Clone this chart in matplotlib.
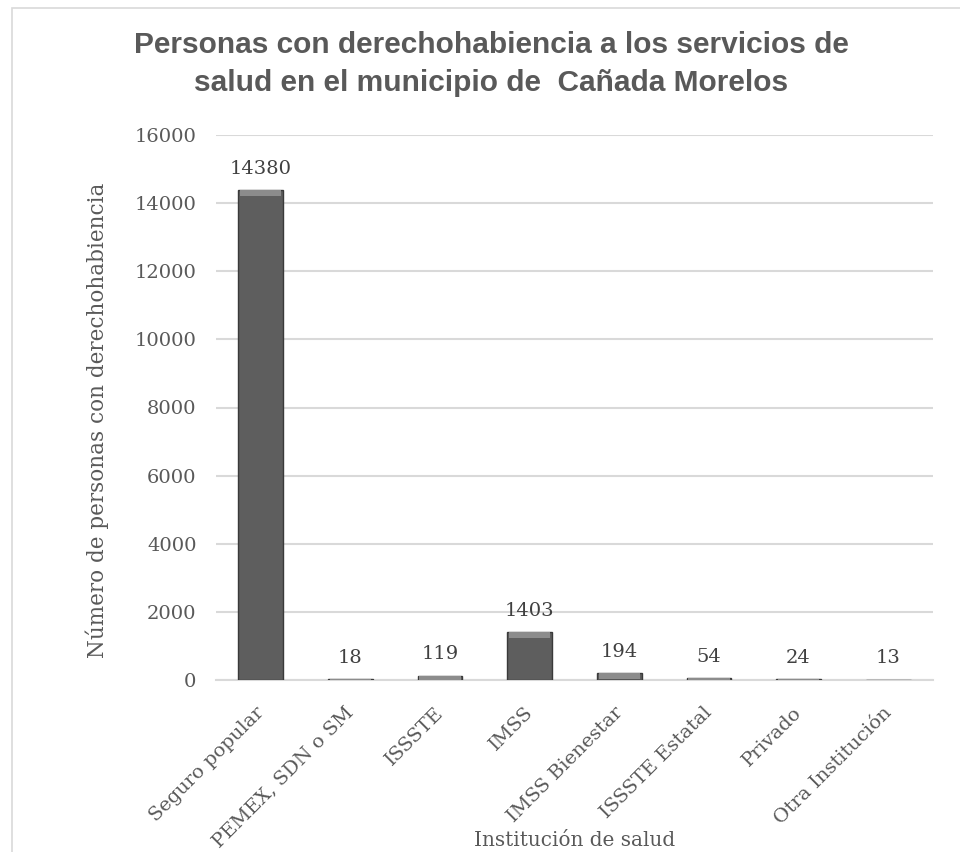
import matplotlib.pyplot as plt
import matplotlib.transforms as mtransforms
from matplotlib.patches import Rectangle

# data
instituciones = ["Seguro popular", "PEMEX, SDN o SM", "ISSSTE", "IMSS",
                 "IMSS Bienestar", "ISSSTE Estatal", "Privado", "Otra Institución"]
personas = [14380, 18, 119, 1403, 194, 54, 24, 13]
y_ticks = [0, 2000, 4000, 6000, 8000, 10000, 12000, 14000, 16000]

txt = "#595959"
grid = "#d9d9d9"
serif = ["DejaVu Serif"]

fig = plt.figure(figsize=(9.6, 8.52), dpi=100)
fig.patches.append(Rectangle((12 / 960, -0.01), 1.0, 1 - 8 / 852 + 0.01,
                             transform=fig.transFigure, fill=False,
                             edgecolor=grid, linewidth=1.2))

ax = fig.add_axes([216 / 960, 1 - 680 / 852, (933 - 216) / 960, (680 - 135) / 852])
x = range(len(instituciones))
bars = ax.bar(x, personas, width=0.5, color="#5e5e5e", edgecolor="#3a3a3a",
              linewidth=1.0, zorder=3)
# light bevel on top of bars
for b in bars:
    h = b.get_height()
    bev = min(h, 170)
    ax.bar(b.get_x() + b.get_width() / 2, bev, bottom=h - bev,
           width=0.46, color="#8c8c8c", linewidth=0, zorder=4)

for xi, v in zip(x, personas):
    ax.annotate(str(v), (xi, v), xytext=(0, 9), textcoords="offset points",
                ha="center", va="bottom", fontsize=14, color="#404040", family=serif)

ax.set_xlim(-0.5, len(instituciones) - 0.5)
ax.set_ylim(0, 16000)
ax.set_yticks(y_ticks)
ax.set_yticklabels([str(t) for t in y_ticks], fontsize=14, color=txt, family=serif)
ax.yaxis.grid(True, color=grid, linewidth=1.5, zorder=0)
ax.set_axisbelow(True)
for s in ["top", "right", "left"]:
    ax.spines[s].set_visible(False)
ax.spines["bottom"].set_color(grid)
ax.spines["bottom"].set_linewidth(1.5)
ax.tick_params(axis="both", length=0, pad=14)
ax.tick_params(axis="x", pad=4)

ax.set_xticks(list(x))
ax.set_xticklabels(instituciones, rotation=45, ha="right", va="top",
                   rotation_mode="anchor", fontsize=14, color=txt, family=serif)
offset = mtransforms.ScaledTranslation(-6 / 100, -18 / 100, fig.dpi_scale_trans)
for lab in ax.get_xticklabels():
    lab.set_transform(lab.get_transform() + offset)

ax.set_ylabel("Número de personas con derechohabiencia", fontsize=15.5,
              color=txt, family=serif)
ax.yaxis.set_label_coords(-0.149, 0.477)
ax.set_xlabel("Institución de salud", fontsize=14.4, color=txt, family=serif)
ax.xaxis.label.set_va("center")
ax.xaxis.set_label_coords(0.5, -160 / 545)

fig.text(0.512, 1 - 64 / 852,
         "Personas con derechohabiencia a los servicios de\nsalud en el municipio de  Cañada Morelos",
         ha="center", va="center", fontsize=21.5, fontweight="bold", color=txt,
         family=["Liberation Sans", "DejaVu Sans"], linespacing=1.42)

fig.savefig("out.png", dpi=100)
